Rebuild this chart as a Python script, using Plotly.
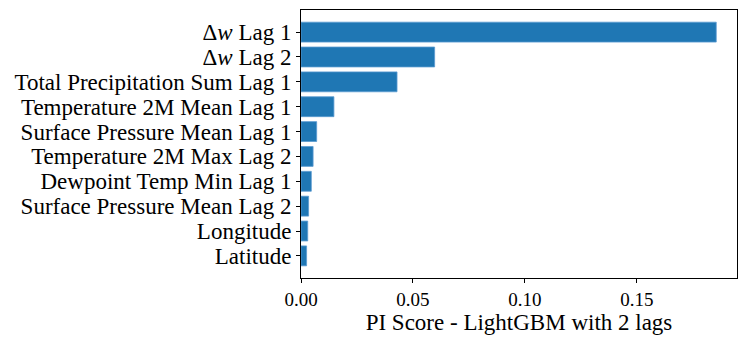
import plotly.graph_objects as go

# Features listed top to bottom, as in the reference
features = [
    "Δ<i>w</i> Lag 1",
    "Δ<i>w</i> Lag 2",
    "Total Precipitation Sum Lag 1",
    "Temperature 2M Mean Lag 1",
    "Surface Pressure Mean Lag 1",
    "Temperature 2M Max Lag 2",
    "Dewpoint Temp Min Lag 1",
    "Surface Pressure Mean Lag 2",
    "Longitude",
    "Latitude",
]
pi_scores = [0.1855, 0.0597, 0.0429, 0.0147, 0.0070, 0.0054, 0.0046, 0.0034, 0.0030, 0.0025]

x_ticks = [0.0, 0.05, 0.10, 0.15]
x_tick_labels = ["0.00", "0.05", "0.10", "0.15"]

FONT = "Liberation Serif"

fig = go.Figure(
    go.Bar(
        x=pi_scores,
        y=features,
        orientation="h",
        width=0.8,
        marker=dict(color="#1f77b4", line=dict(color="#5a9bd0", width=0.8)),
        showlegend=False,
    )
)

# page body has an 8px margin, so the figure is sized to fit inside the window
fig.update_layout(
    width=740,
    height=333,
    margin=dict(l=293, r=11, t=2, b=63),
    plot_bgcolor="white",
    paper_bgcolor="white",
    font=dict(family=FONT, size=18, color="black"),
    xaxis=dict(
        range=[0, max(pi_scores) * 1.05],
        tickvals=x_ticks,
        ticktext=x_tick_labels,
        tickfont=dict(size=19),
        ticks="outside",
        ticklen=4,
        tickcolor="black",
        showgrid=False,
        zeroline=False,
        showline=True,
        linecolor="black",
        linewidth=1,
        mirror=True,
        title=dict(text="PI Score - LightGBM with 2 lags", font=dict(size=23), standoff=0),
    ),
    yaxis=dict(
        type="category",
        range=[len(features) - 0.6 + 0.49, -0.89],
        tickmode="array",
        tickvals=features,
        ticktext=features,
        tickfont=dict(size=23),
        ticks="outside",
        ticklen=4,
        tickcolor="black",
        showgrid=False,
        zeroline=False,
        showline=True,
        linecolor="black",
        linewidth=1,
        mirror=True,
        automargin=False,
    ),
)

fig.write_html("out.html")
